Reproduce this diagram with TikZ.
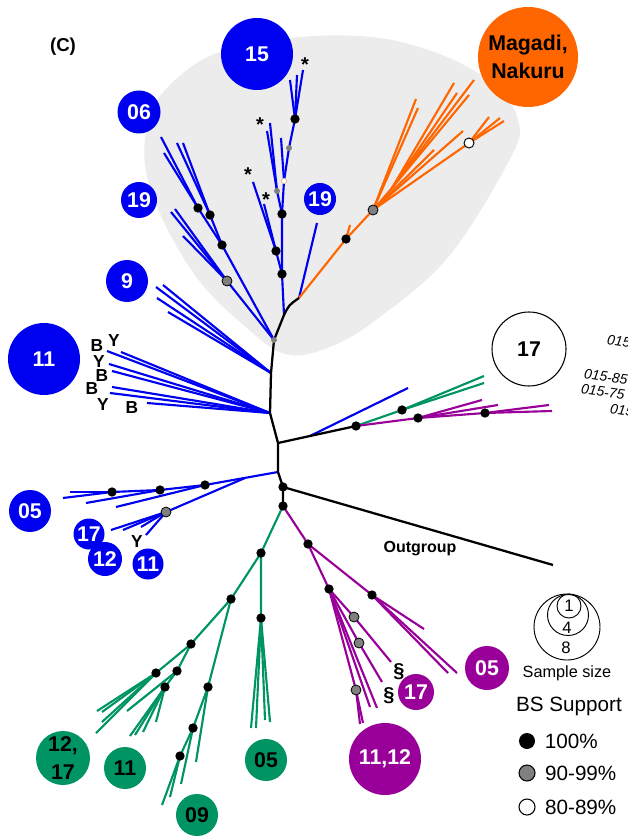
\documentclass[tikz,border=0pt]{standalone}
\usepackage{fontspec}
\setmainfont{Liberation Sans}
\usetikzlibrary{positioning}

\definecolor{cblue}{RGB}{0,0,240}
\definecolor{corange}{RGB}{255,102,0}
\definecolor{cgreen}{RGB}{0,148,100}
\definecolor{cpurple}{RGB}{153,0,153}
\definecolor{cblob}{RGB}{236,236,236}
\definecolor{cdot}{RGB}{128,128,128}

% fan of leaf branches from one node
\newcommand{\fan}[3]{\foreach \x/\y in {#3} \draw[#1] (#2) -- (\x,\y);}

\begin{document}
\begin{tikzpicture}[
            x=0.75pt, y=-0.75pt,
            bk/.style={line width=1.7pt, black},
            bl/.style={line width=1.6pt, cblue},
            orb/.style={line width=1.6pt, corange},
            gn/.style={line width=1.6pt, cgreen},
            pu/.style={line width=1.6pt, cpurple},
            bs/.style={circle, fill=black, inner sep=0pt, minimum size=7pt},
            bsgray/.style={circle, draw=black, fill=cdot, line width=0.6pt, inner sep=0pt, minimum size=7.5pt},
            bssmall/.style={circle, fill=cdot, inner sep=0pt, minimum size=4.5pt},
            bswhite/.style={circle, draw=black, fill=white, line width=0.7pt, inner sep=0pt, minimum size=7.5pt},
            grp/.style={circle, inner sep=0pt, minimum size=#1*1.5pt, font=\fontsize{16}{21}\selectfont\bfseries, align=center},
            tag/.style={font=\fontsize{13}{14}\selectfont\bfseries, inner sep=0pt},
            legend/.style={font=\fontsize{15.5}{17}\selectfont, inner sep=0pt},
            cutname/.style={anchor=west, rotate=-8, inner sep=0pt, font=\fontsize{10.5}{11}\selectfont\itshape}
        ]
        \useasboundingbox (0,0) rectangle (627,837);

        % shaded clade
        \fill[cblob] plot[smooth cycle, tension=0.6] coordinates {(145,165) (150,115) (175,80) (220,52) (300,37) (380,38) (447,57) (497,87) (518,120) (512,155) (450,255) (380,317) (330,347) (285,354) (240,322) (197,278) (162,218)};

        % Backbone
        \coordinate (r0) at (274,340);
        \coordinate (rA) at (284,315);
        \coordinate (rB) at (299,298);
        \coordinate (r9) at (271,373);
        \coordinate (r11) at (270,413);
        \coordinate (rR) at (278,443);
        \coordinate (rRb) at (310,436);
        \coordinate (r05) at (278,472);
        \coordinate (rO) at (283,487);
        \coordinate (rGP) at (283,506);
        \coordinate (gp) at (356,426);
        \coordinate (og) at (553,565);

        % Upper blue clade
        \coordinate (u6) at (222,245);
        \coordinate (u6a) at (198,208);
        \coordinate (u6b) at (210,215);
        \coordinate (u19) at (227,281);
        \coordinate (c1) at (282,274);
        \coordinate (c2) at (276,251);
        \coordinate (c3) at (282,214);
        \coordinate (c4) at (277,191);
        \coordinate (c5) at (284,181);
        \coordinate (c6) at (289,148);
        \coordinate (c7) at (295,119);

        \draw[bl] (r0) -- (u6) -- (u6a);
        \draw[bl] (u6) -- (u6b);
        \fan{bl}{u6a}{161/137, 164/153}
        \fan{bl}{u6b}{177/143, 183/143}
        \draw[bl] (r0) -- (u19);
        \fan{bl}{u19}{171/212, 175/209, 183/236}
        \draw[bl] (rA) -- (c1) -- (c3) -- (c5) -- (c6) -- (c7);
        \draw[bl] (c1) -- (c2);
        \fan{bl}{c2}{253/182, 264/204}
        \draw[bl] (c3) -- (c4);
        \fan{bl}{c4}{267/131, 270/123}
        \fan{bl}{c5}{281/138}
        \fan{bl}{c7}{290/80, 297/75, 303/70}
        \draw[bl] (rB) -- (317,223) coordinate (u19r);

        % Orange clade
        \coordinate (o1) at (346,239);
        \coordinate (o2) at (373,210);
        \coordinate (o3) at (392,188);
        \coordinate (o4) at (469,143);
        \draw[orb] (rB) -- (o1) -- (o2) -- (o3);
        \draw[orb] (o1) -- (350,225);
        \fan{orb}{o2}{416/99, 418/108, 463/131, 434/150}
        \fan{orb}{o3}{454/83, 457/93, 474/80, 469/95}
        \draw[orb] (o2) -- (o4);
        \fan{orb}{o4}{489/117, 500/118, 504/121}

        % Blue fans on the backbone
        \fan{bl}{r9}{156/287, 163/285, 157/298, 168/312}
        \fan{bl}{r11}{107/351, 121/352, 109/364, 112/371, 112/387, 110/393, 147/403}
        \coordinate (b1) at (205,485);
        \coordinate (b2) at (160,490);
        \coordinate (b3) at (112,492);
        \coordinate (b0) at (245,478);
        \coordinate (b4) at (166,512);
        \draw[bl] (r05) -- (b1) -- (b2) -- (b3);
        \fan{bl}{b3}{70/492, 63/498}
        \fan{bl}{b2}{86/503}
        \fan{bl}{b1}{116/507}
        \draw[bl] (b0) -- (b4);
        \fan{bl}{b4}{111/530, 123/530, 141/527, 146/535}
        \draw[bl] (rRb) -- (408,388) coordinate (bR);

        % Green / purple pair on the right
        \coordinate (g1) at (402,410);
        \coordinate (p1) at (418,418);
        \coordinate (p2) at (485,413);
        \draw[gn] (gp) -- (g1);
        \fan{gn}{g1}{484/376, 484/383}
        \draw[pu] (gp) -- (p1) -- (p2);
        \fan{pu}{p1}{482/400, 498/405}
        \fan{pu}{p2}{549/405, 552/411}

        % Green clade
        \coordinate (ga) at (261,553);
        \coordinate (gb) at (261,618);
        \coordinate (gc) at (231,599);
        \coordinate (gd) at (191,644);
        \coordinate (ge) at (156,673);
        \coordinate (gf) at (177,671);
        \coordinate (gg) at (165,687);
        \coordinate (gh) at (208,687);
        \coordinate (gi) at (193,728);
        \coordinate (gj) at (180,756);
        \draw[gn] (rGP) -- (ga) -- (gb);
        \fan{gn}{gb}{251/728, 256/728, 265/720, 270/722}
        \draw[gn] (ga) -- (gc) -- (gd) -- (ge);
        \fan{gn}{ge}{97/711, 102/712, 102/722, 96/733}
        \draw[gn] (gd) -- (gf) -- (gg);
        \fan{gn}{gf}{127/711}
        \fan{gn}{gg}{130/736, 135/735, 143/732, 156/722}
        \draw[gn] (gc) -- (gh) -- (gi) -- (gj);
        \fan{gn}{gh}{196/762}
        \fan{gn}{gi}{181/784}
        \fan{gn}{gj}{162/805, 170/797}

        % Purple clade
        \coordinate (pa) at (308,544);
        \coordinate (pb) at (372,595);
        \coordinate (pc) at (329,589);
        \coordinate (pd) at (354,617);
        \coordinate (pe) at (359,643);
        \coordinate (pf) at (356,690);
        \draw[pu] (rGP) -- (pa) -- (pb);
        \fan{pu}{pb}{424/629, 448/673, 457/673}
        \draw[pu] (pa) -- (pc) -- (pd);
        \fan{pu}{pd}{391/662}
        \draw[pu] (pc) -- (pe);
        \fan{pu}{pe}{382/682}
        \fan{pu}{pc}{377/708, 370/707}
        \draw[pu] (pc) -- (pf);
        \fan{pu}{pf}{360/724, 363/723}

        % Backbone on top
        \draw[bk] (rB) .. controls (289,305) .. (rA) -- (r0) -- (r9) -- (r11) -- (rR) -- (r05) -- (rO) -- (rGP);
        \draw[bk] (rR) -- (rRb) -- (gp);
        \draw[bk] (rO) -- (og);

        % Support dots
        \foreach \n in {u6,u6a,u6b,c1,c2,c3,c7,o1,b1,b2,b3,gp,g1,p1,p2,rO,rGP,ga,gb,gc,gd,ge,gf,gg,gh,gi,gj,pa,pb,pc}
            \node[bs] (dot-\n) at (\n) {};
        \foreach \n in {u19,o2,b4,pd,pe,pf}
            \node[bsgray] (dot-\n) at (\n) {};
        \foreach \n in {r0,c4,c6}
            \node[bssmall] (dot-\n) at (\n) {};
        \node[bswhite] (dot-o4) at (o4) {};
        \node[circle, draw=cblob!50!brown, fill=white, line width=0.5pt, inner sep=0pt, minimum size=4pt] (dot-c5) at (c5) {};

        % Group circles
        \node[grp=36, fill=cblue, text=white] (c15) at (257,54) {15};
        \node[grp=21.5, fill=cblue, text=white] (c06) at (139,112) {06};
        \node[grp=18, fill=cblue, text=white] (c19a) at (139,200) {19};
        \node[grp=16, fill=cblue, text=white] (c19b) at (320,199) {19};
        \node[grp=21, fill=cblue, text=white] (c9) at (127,281) {9};
        \node[grp=36, fill=cblue, text=white] (c11a) at (44,359) {11};
        \node[grp=21, fill=cblue, text=white] (c05a) at (30,511) {05};
        \node[grp=15.5, fill=cblue, text=white] (c17a) at (89,534) {17};
        \node[grp=17, fill=cblue, text=white] (c12a) at (105,559) {12};
        \node[grp=15.5, fill=cblue, text=white] (c11b) at (148,564) {11};
        \node[grp=50, fill=corange, text=black] (cMN) at (528,57) {Magadi,\\Nakuru};
        \node[grp=37, draw=black, line width=0.8pt, fill=white] (c17o) at (529,349) {17};
        \node[grp=27, fill=cgreen, text=black] (c1217g) at (63,758) {12,\\17};
        \node[grp=21, fill=cgreen, text=black] (c11g) at (125,768) {11};
        \node[grp=21, fill=cgreen, text=black] (c09g) at (197,815) {09};
        \node[grp=21, fill=cgreen, text=black] (c05g) at (266,760) {05};
        \node[grp=22, fill=cpurple, text=white] (c05p) at (487,668) {05};
        \node[grp=18, fill=cpurple, text=white] (c17p) at (416,692) {17};
        \node[grp=36, fill=cpurple, text=white] (c1112p) at (385,759) {11,12};

        % Tags
        \node[font=\fontsize{14}{16}\selectfont\bfseries] (panel) at (63,47) {(C)};
        \node[font=\fontsize{12}{14}\selectfont\bfseries] (outlbl) at (420,549) {Outgroup};
        \foreach \x/\y/\t [count=\i] in {97/346/B, 114/341/Y, 99/362/Y, 102/376/B, 92/389/B, 103/405/Y, 132/408/B, 137/542/Y}
            \node[tag] (by\i) at (\x,\y) {\t};
        \foreach \x/\y [count=\i] in {305/65, 260/125, 248/175, 266/200}
            \node[tag, font=\fontsize{15}{16}\selectfont\bfseries] (star\i) at (\x,\y) {*};
        \node[tag, font=\fontsize{15}{16}\selectfont\bfseries] (sec1) at (399,672) {\S};
        \node[tag, font=\fontsize{15}{16}\selectfont\bfseries] (sec2) at (389,696) {\S};

        % Cut-off sample names at the right edge
        \node[cutname] (nm1) at (607,340) {015};
        \node[cutname] (nm2) at (584,374) {015-85};
        \node[cutname] (nm3) at (581,389) {015-75};
        \node[cutname] (nm4) at (610,409) {015};

        % Legend: sample size
        \node[circle, draw, line width=0.7pt, inner sep=0pt, minimum size=66*0.75pt] (ss8) at (567,627) {};
        \node[circle, draw, line width=0.7pt, inner sep=0pt, minimum size=41*0.75pt] (ss4) at (568,615) {};
        \node[circle, draw, line width=0.7pt, inner sep=0pt, minimum size=24*0.75pt] (ss1) at (569,606) {};
        \node[font=\fontsize{12.5}{13}\selectfont, inner sep=0pt] (ss1l) at (569,606) {1};
        \node[font=\fontsize{12.5}{13}\selectfont, inner sep=0pt] (ss4l) at (567,628) {4};
        \node[font=\fontsize{12.5}{13}\selectfont, inner sep=0pt] (ss8l) at (566,648) {8};
        \node[font=\fontsize{12.2}{13}\selectfont, inner sep=0pt] (sslbl) at (567,673) {Sample size};

        % Legend: bootstrap support
        \node[legend] (bslbl) at (569,706) {BS Support};
        \node[circle, fill=black, inner sep=0pt, minimum size=12pt] (k100) at (527,741) {};
        \node[circle, draw=black, fill=cdot, line width=0.8pt, inner sep=0pt, minimum size=12pt] (k90) at (527,773) {};
        \node[circle, draw=black, fill=white, line width=0.8pt, inner sep=0pt, minimum size=12pt] (k80) at (527,807) {};
        \node[legend, anchor=west, right=7pt of k100] (k100l) {100\%};
        \node[legend, anchor=west, right=7pt of k90] (k90l) {90-99\%};
        \node[legend, anchor=west, right=7pt of k80] (k80l) {80-89\%};
\end{tikzpicture}
\end{document}
